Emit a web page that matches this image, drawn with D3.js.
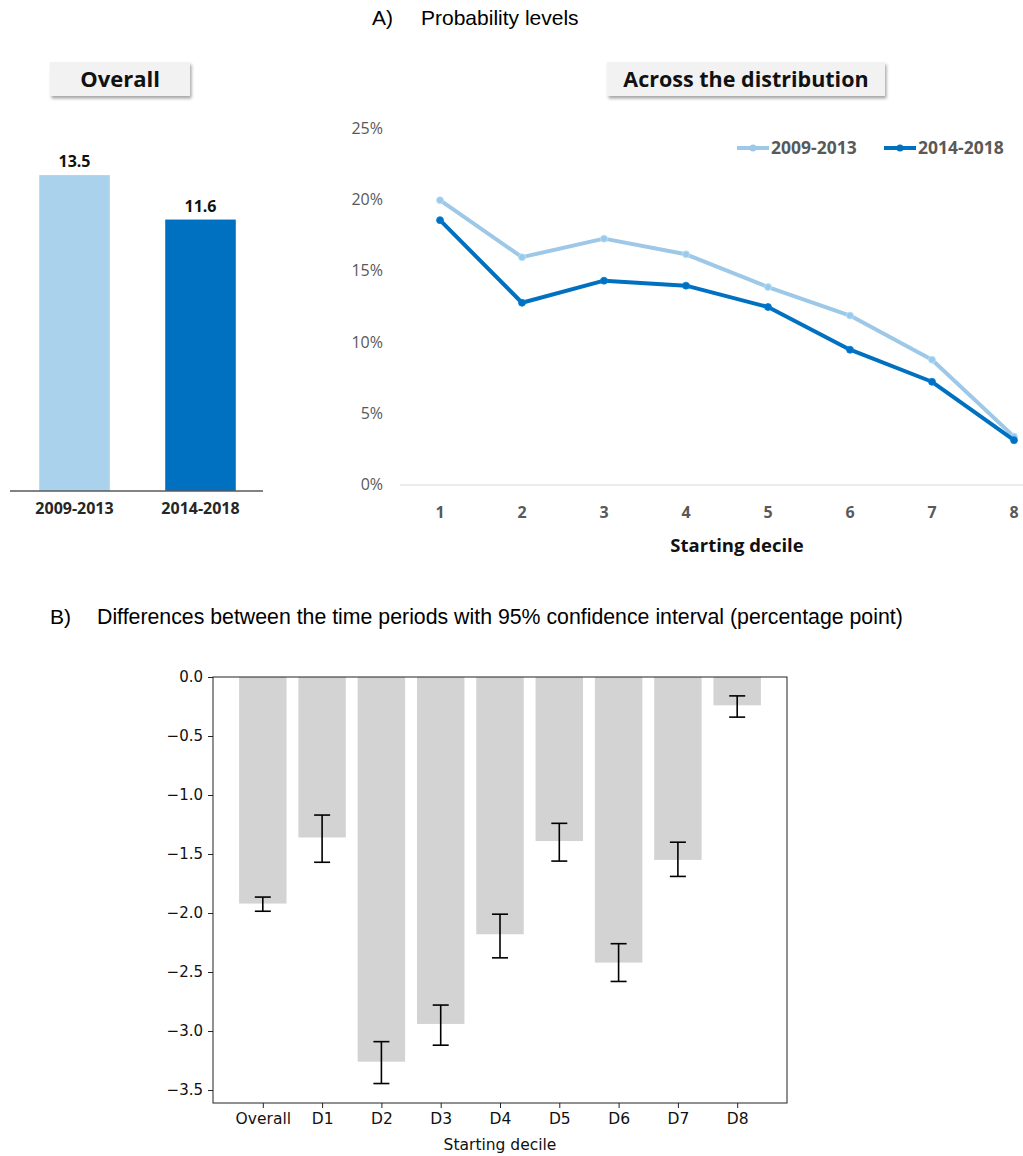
<!DOCTYPE html>
<html>
<head>
<meta charset="utf-8">
<script src="https://cdn.jsdelivr.net/npm/d3@7"></script>
<style>
  body { margin: 0; background: #fff; }
  svg { display: block; }
  .excel { font-family: "Open Sans", Lato, sans-serif; }
  .mpl { font-family: "DejaVu Sans", sans-serif; }
  .title { font-family: "Liberation Sans", Arial, sans-serif; font-size: 21px; fill: #000; }
</style>
</head>
<body>
<script>
// Panel A, overall bars
const periods = ['2009-2013', '2014-2018'];
const overallValues = [13.5, 11.6];

// Panel A, across the distribution (percent)
const deciles = [1, 2, 3, 4, 5, 6, 7, 8];
const series2009 = [20.0, 16.0, 17.3, 16.2, 13.9, 11.9, 8.8, 3.4];
const series2014 = [18.6, 12.8, 14.35, 14.0, 12.5, 9.5, 7.25, 3.15];
const pctTicks = [0, 5, 10, 15, 20, 25];

// Panel B, differences with 95% CI
const diffCats = ['Overall', 'D1', 'D2', 'D3', 'D4', 'D5', 'D6', 'D7', 'D8'];
const diffValues = [-1.92, -1.36, -3.26, -2.94, -2.18, -1.39, -2.42, -1.55, -0.24];
const ciLow = [-1.985, -1.57, -3.445, -3.12, -2.38, -1.56, -2.58, -1.69, -0.34];
const ciHigh = [-1.865, -1.17, -3.09, -2.78, -2.01, -1.24, -2.26, -1.40, -0.16];
const diffTicks = [0, -0.5, -1.0, -1.5, -2.0, -2.5, -3.0, -3.5];

const lightBar = '#abd2ec', lightLine = '#9dc8e7', dark = '#0070c0';

const svg = d3.select('body').append('svg')
    .attr('width', 1023)
    .attr('height', 1156);

const defs = svg.append('defs');
defs.append('filter')
    .attr('id', 'shadow')
    .attr('x', '-10%').attr('y', '-20%')
    .attr('width', '130%').attr('height', '160%')
    .append('feDropShadow')
    .attr('dx', 1.5).attr('dy', 2.5)
    .attr('stdDeviation', 1.5)
    .attr('flood-color', '#000')
    .attr('flood-opacity', 0.35);

// Section titles
svg.append('text').attr('class', 'title').attr('x', 372).attr('y', 25).text('A)');
svg.append('text').attr('class', 'title').attr('x', 421).attr('y', 25).text('Probability levels');
svg.append('text').attr('class', 'title').attr('x', 50).attr('y', 624).text('B)');
svg.append('text').attr('class', 'title').attr('x', 97).attr('y', 624)
    .style('font-size', '21.3px')
    .text('Differences between the time periods with 95% confidence interval (percentage point)');

// Header boxes
function headerBox(x, w, label, size) {
    svg.append('rect')
        .attr('x', x).attr('y', 62)
        .attr('width', w).attr('height', 34)
        .attr('fill', '#f2f2f2')
        .attr('filter', 'url(#shadow)');
    svg.append('text')
        .attr('class', 'excel')
        .attr('x', x + w / 2).attr('y', 87)
        .attr('text-anchor', 'middle')
        .style('font-size', size + 'px')
        .style('font-weight', 'bold')
        .attr('fill', '#111')
        .text(label);
}
headerBox(50, 140, 'Overall', 22);
headerBox(607, 278, 'Across the distribution', 21.5);

// ---- Overall bar chart
const xb = d3.scaleBand()
    .domain(periods)
    .range([11.5, 263.5])
    .paddingInner(0.44)
    .paddingOuter(0.22);
const yb = d3.scaleLinear()
    .domain([0, 10])
    .range([491, 257]);

const gBars = svg.append('g').attr('class', 'excel');
gBars.selectAll('.obar')
    .data(overallValues)
    .enter()
    .append('rect')
    .attr('class', 'obar')
    .attr('x', (d, i) => xb(periods[i]))
    .attr('y', d => yb(d))
    .attr('width', xb.bandwidth())
    .attr('height', d => yb(0) - yb(d))
    .attr('fill', (d, i) => i === 0 ? lightBar : dark);
gBars.selectAll('.olabel')
    .data(overallValues)
    .enter()
    .append('text')
    .attr('x', (d, i) => xb(periods[i]) + xb.bandwidth() / 2)
    .attr('y', d => yb(d) - 8)
    .attr('text-anchor', 'middle')
    .style('font-size', '16px')
    .style('font-weight', 'bold')
    .attr('fill', '#111')
    .text(d => d.toFixed(1));
gBars.append('line')
    .attr('x1', 10).attr('x2', 263)
    .attr('y1', yb(0)).attr('y2', yb(0))
    .attr('stroke', '#595959')
    .attr('stroke-width', 1.5);
gBars.selectAll('.operiod')
    .data(periods)
    .enter()
    .append('text')
    .attr('x', d => xb(d) + xb.bandwidth() / 2)
    .attr('y', 514)
    .attr('text-anchor', 'middle')
    .style('font-size', '16px')
    .style('font-weight', 'bold')
    .attr('fill', '#262626')
    .text(d => d);

// ---- Line chart
const xl = d3.scaleLinear().domain([1, 8]).range([440, 1014]);
const yl = d3.scaleLinear().domain([0, 25]).range([485, 129]);
const gLine = svg.append('g').attr('class', 'excel');

gLine.append('line')
    .attr('x1', 400).attr('x2', 1023)
    .attr('y1', yl(0)).attr('y2', yl(0))
    .attr('stroke', '#d9d9d9')
    .attr('stroke-width', 1);

gLine.selectAll('.ytick')
    .data(pctTicks)
    .enter()
    .append('text')
    .attr('x', 383)
    .attr('y', d => yl(d) + 5)
    .attr('text-anchor', 'end')
    .style('font-size', '16px')
    .attr('fill', '#595959')
    .text(d => d + '%');

gLine.selectAll('.xtick')
    .data(deciles)
    .enter()
    .append('text')
    .attr('x', d => xl(d))
    .attr('y', 518)
    .attr('text-anchor', 'middle')
    .style('font-size', '16px')
    .style('font-weight', 'bold')
    .attr('fill', '#595959')
    .text(d => d);

gLine.append('text')
    .attr('x', 737).attr('y', 552)
    .attr('text-anchor', 'middle')
    .style('font-size', '18.5px')
    .style('font-weight', 'bold')
    .attr('fill', '#111')
    .text('Starting decile');

const line = d3.line()
    .x((d, i) => xl(deciles[i]))
    .y(d => yl(d));

const lineSeries = [
    { name: '2009-2013', values: series2009, color: lightLine },
    { name: '2014-2018', values: series2014, color: dark }
];

lineSeries.forEach(function(s) {
    gLine.append('path')
        .attr('d', line(s.values))
        .attr('fill', 'none')
        .attr('stroke', s.color)
        .attr('stroke-width', 4)
        .attr('stroke-linejoin', 'round');
    gLine.selectAll(null)
        .data(s.values)
        .enter()
        .append('circle')
        .attr('cx', (d, i) => xl(deciles[i]))
        .attr('cy', d => yl(d))
        .attr('r', 3.5)
        .attr('fill', s.color)
        .attr('stroke', d3.color(s.color).brighter(0.4))
        .attr('stroke-width', 0.8);
});

// Legend
const legendX = [737, 884];
lineSeries.forEach(function(s, i) {
    const lx = legendX[i];
    gLine.append('line')
        .attr('x1', lx).attr('x2', lx + 32)
        .attr('y1', 148).attr('y2', 148)
        .attr('stroke', s.color)
        .attr('stroke-width', 4);
    gLine.append('circle')
        .attr('cx', lx + 16).attr('cy', 148)
        .attr('r', 3.5)
        .attr('fill', s.color);
    gLine.append('text')
        .attr('x', lx + 34).attr('y', 154)
        .style('font-size', '17.5px')
        .style('font-weight', 'bold')
        .attr('fill', '#595959')
        .text(s.name);
});

// ---- Panel B
const xd = d3.scaleLinear().domain([-0.84, 8.84]).range([213, 787]);
const yd = d3.scaleLinear().domain([-3.61, 0]).range([1103, 677]);
const gB = svg.append('g').attr('class', 'mpl');
const barW = xd(0.8) - xd(0);

gB.selectAll('.dbar')
    .data(diffValues)
    .enter()
    .append('rect')
    .attr('class', 'dbar')
    .attr('x', (d, i) => xd(i) - barW / 2)
    .attr('y', yd(0))
    .attr('width', barW)
    .attr('height', d => yd(d) - yd(0))
    .attr('fill', '#d3d3d3');

const errs = gB.selectAll('.err')
    .data(diffValues)
    .enter()
    .append('g')
    .attr('class', 'err')
    .attr('stroke', '#000')
    .attr('stroke-width', 1.6);
errs.append('line')
    .attr('x1', (d, i) => xd(i)).attr('x2', (d, i) => xd(i))
    .attr('y1', (d, i) => yd(ciHigh[i])).attr('y2', (d, i) => yd(ciLow[i]));
errs.append('line')
    .attr('x1', (d, i) => xd(i) - 8).attr('x2', (d, i) => xd(i) + 8)
    .attr('y1', (d, i) => yd(ciHigh[i])).attr('y2', (d, i) => yd(ciHigh[i]));
errs.append('line')
    .attr('x1', (d, i) => xd(i) - 8).attr('x2', (d, i) => xd(i) + 8)
    .attr('y1', (d, i) => yd(ciLow[i])).attr('y2', (d, i) => yd(ciLow[i]));

// frame
gB.append('rect')
    .attr('x', 213).attr('y', 677)
    .attr('width', 787 - 213).attr('height', 1103 - 677)
    .attr('fill', 'none')
    .attr('stroke', '#222')
    .attr('stroke-width', 1);

const yAxisB = d3.axisLeft(yd)
    .tickValues(diffTicks)
    .tickFormat(d3.format('.1f'))
    .tickSize(5)
    .tickPadding(5);
gB.append('g')
    .attr('transform', 'translate(213,0)')
    .call(yAxisB)
    .call(g => g.select('.domain').remove())
    .call(g => g.selectAll('text').style('font-size', '15px').style('font-family', '"DejaVu Sans", sans-serif').attr('fill', '#111'))
    .call(g => g.selectAll('line').attr('stroke', '#222'));

const xAxisB = d3.axisBottom(xd)
    .tickValues(d3.range(diffCats.length))
    .tickFormat(i => diffCats[i])
    .tickSize(5)
    .tickPadding(5);
gB.append('g')
    .attr('transform', 'translate(0,1103)')
    .call(xAxisB)
    .call(g => g.select('.domain').remove())
    .call(g => g.selectAll('text').style('font-size', '15.5px').style('font-family', '"DejaVu Sans", sans-serif').attr('fill', '#111'))
    .call(g => g.selectAll('line').attr('stroke', '#222'));

gB.append('text')
    .attr('x', 500).attr('y', 1150)
    .attr('text-anchor', 'middle')
    .style('font-size', '15.5px')
    .attr('fill', '#111')
    .text('Starting decile');
</script>
</body>
</html>
